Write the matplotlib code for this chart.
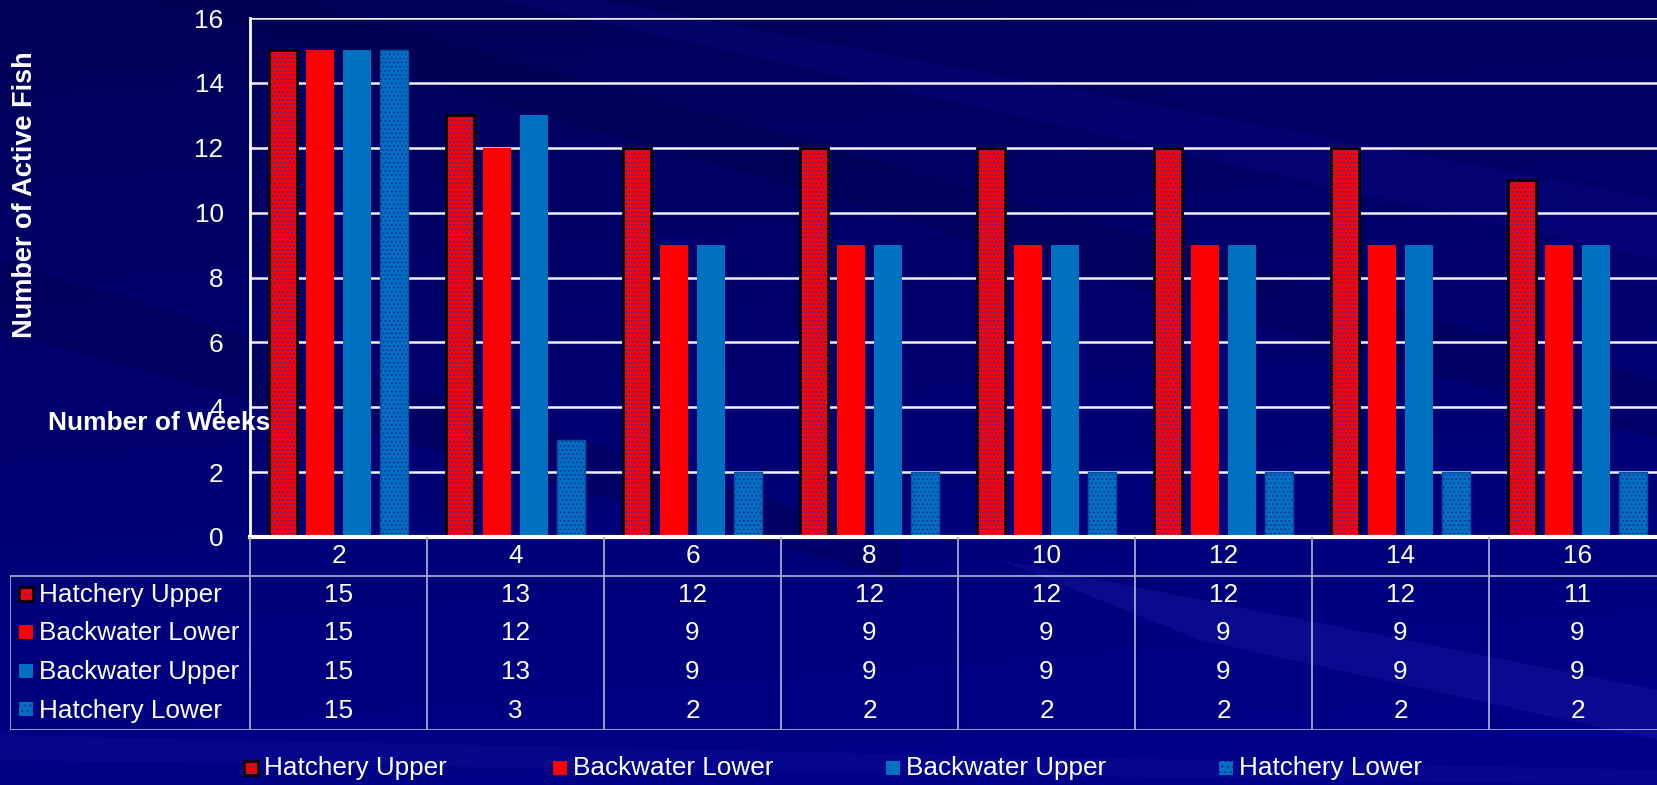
import numpy as np
import matplotlib
matplotlib.use("Agg")
import matplotlib.pyplot as plt
from matplotlib.patches import Rectangle, Polygon

plt.rcParams["font.family"] = ["Liberation Sans", "DejaVu Sans"]
plt.rcParams["hatch.linewidth"] = 0.8

# data
weeks = [2, 4, 6, 8, 10, 12, 14, 16]
series_names = ["Hatchery Upper", "Backwater Lower", "Backwater Upper", "Hatchery Lower"]
hatchery_upper = [15, 13, 12, 12, 12, 12, 12, 11]
backwater_lower = [15, 12, 9, 9, 9, 9, 9, 9]
backwater_upper = [15, 13, 9, 9, 9, 9, 9, 9]
hatchery_lower = [15, 3, 2, 2, 2, 2, 2, 2]
y_ticks = [0, 2, 4, 6, 8, 10, 12, 14, 16]

series = [hatchery_upper, backwater_lower, backwater_upper, hatchery_lower]
RED, BLUE = "#FF0000", "#0070C0"
styles = [
    dict(face=RED, hatch="....", hcol="#3030B8", edge="black"),
    dict(face=RED, hatch=None, hcol=None, edge=None),
    dict(face=BLUE, hatch=None, hcol=None, edge=None),
    dict(face=BLUE, hatch="....", hcol="#1A30A0", edge="#0A50A0"),
]
FS = 18.8

W, H = 1658, 785
fig = plt.figure(figsize=(W / 100, H / 100), dpi=100)


def fx(x):
    return x / W


def fy(y):
    return 1 - y / H


# background: navy gradient with faint diagonal streaks
bg = fig.add_axes([0, 0, 1, 1], zorder=-10)
bg.axis("off")
yy = np.linspace(0, 1, H)[:, None]
xx = np.linspace(0, 1, W)[None, :]
t = np.clip(0.9 * yy + 0.15 * xx - 0.05, 0, 1)
top = np.array([0x00, 0x00, 0x5A]) / 255
bot = np.array([0x00, 0x00, 0x8C]) / 255
img = top[None, None, :] + (bot - top)[None, None, :] * t[:, :, None]
bg.imshow(img, extent=[0, W, H, 0], aspect="auto")
bg.set_xlim(0, W)
bg.set_ylim(H, 0)
streaks = [
    ([(0, 260), (900, 540), (900, 580), (0, 330)], "#000048", 0.35),
    ([(300, 0), (1658, 380), (1658, 440), (150, 0)], "#000048", 0.3),
    ([(600, 0), (1658, 200), (1658, 260), (500, 0)], "#1010A0", 0.2),
    ([(1000, 560), (1658, 690), (1658, 740), (1200, 640)], "#3030C0", 0.22),
    ([(0, 735), (1658, 770), (1658, 785), (0, 760)], "#2020A8", 0.2),
]
for pts, c, a in streaks:
    bg.add_patch(Polygon(pts, closed=True, facecolor=c, edgecolor="none", alpha=a))

# main chart
col_px = 177
ax = fig.add_axes([fx(250), fy(537), 8 * col_px / W, (537 - 18) / H])
ax.patch.set_alpha(0)
x = np.arange(len(weeks))
pitch, width = 0.209, 0.153
for i, (vals, st) in enumerate(zip(series, styles)):
    pos = x + (i - 1.5) * pitch
    if st["hatch"]:
        ax.bar(pos, vals, width, color=st["face"], hatch=st["hatch"],
               edgecolor=st["hcol"], linewidth=0, zorder=3)
        ax.bar(pos, vals, width, fill=False, edgecolor=st["edge"],
               linewidth=2 if st["edge"] == "black" else 1, zorder=4)
    else:
        ax.bar(pos, vals, width, color=st["face"], linewidth=0, zorder=3)

ax.set_xlim(-0.5, len(weeks) - 0.5)
ax.set_ylim(0, 16)
ax.set_yticks(y_ticks)
ax.set_xticks([])
ax.yaxis.grid(True, color="#F0F0FF", linewidth=1.8, zorder=1)
ax.set_axisbelow(True)
ax.tick_params(axis="y", length=0, pad=19, labelsize=FS, labelcolor="white")
for s in ["top", "right"]:
    ax.spines[s].set_visible(False)
ax.spines["left"].set_color("white")
ax.spines["left"].set_linewidth(2)
ax.spines["bottom"].set_color("white")
ax.spines["bottom"].set_linewidth(3)
ax.spines["bottom"].set_zorder(5)

fig.text(fx(25), fy(195), "Number of Active Fish", rotation=90, ha="center", va="center",
         color="white", fontsize=19.5, fontweight="bold")
fig.text(fx(48), fy(423), "Number of Weeks", ha="left", va="center",
         color="white", fontsize=19, fontweight="bold")

# data table
lab_w = 240 / col_px
tab = fig.add_axes([fx(10), fy(730), (250 + 8 * col_px - 10) / W, (730 - 537) / H])
tab.axis("off")
tab.set_xlim(-0.5 - lab_w, len(weeks) - 0.5)
tab.set_ylim(5, 0)
lc = "#A8A8D0"
for k in range(len(weeks) + 1):
    tab.plot([k - 0.5, k - 0.5], [0, 5], color=lc, lw=1.3)
tab.plot([-0.5 - lab_w, len(weeks) - 0.5], [1, 1], color=lc, lw=1.3)
tab.plot([-0.5 - lab_w, len(weeks) - 0.5], [5, 5], color=lc, lw=1.3)
tab.plot([-0.5 - lab_w, -0.5 - lab_w], [1, 5], color=lc, lw=1.3)
for i, w in enumerate(weeks):
    tab.text(i, 0.5, str(w), ha="center", va="center", color="white", fontsize=FS)
for r, (name, vals) in enumerate(zip(series_names, series)):
    tab.text(-0.5 - lab_w + 29 / col_px, r + 1.5, name, ha="left", va="center",
             color="white", fontsize=FS)
    for i, v in enumerate(vals):
        tab.text(i, r + 1.5, str(v), ha="center", va="center", color="white", fontsize=FS)

# overlay for legend swatches, pixel coordinates
ov = fig.add_axes([0, 0, 1, 1], zorder=5)
ov.axis("off")
ov.set_xlim(0, W)
ov.set_ylim(H, 0)


def swatch(cx, cy, st, size=14):
    x0, y0 = cx - size / 2, cy - size / 2
    if st["hatch"]:
        ov.add_patch(Rectangle((x0, y0), size, size, facecolor=st["face"], hatch="...",
                               edgecolor=st["hcol"], linewidth=0))
        if st["edge"] == "black":
            ov.add_patch(Rectangle((x0, y0), size, size, fill=False, edgecolor="black", linewidth=2))
    else:
        ov.add_patch(Rectangle((x0, y0), size, size, facecolor=st["face"], linewidth=0))


row_y = [594, 632, 671, 709]
for st, ry in zip(styles, row_y):
    swatch(26, ry, st)

leg_marker_x = [251, 560, 893, 1226]
for name, st, lx in zip(series_names, styles, leg_marker_x):
    swatch(lx, 768, st)
    ov.text(lx + 13, 768, name, ha="left", va="center", color="white", fontsize=FS)

fig.savefig("out.png", dpi=100)
